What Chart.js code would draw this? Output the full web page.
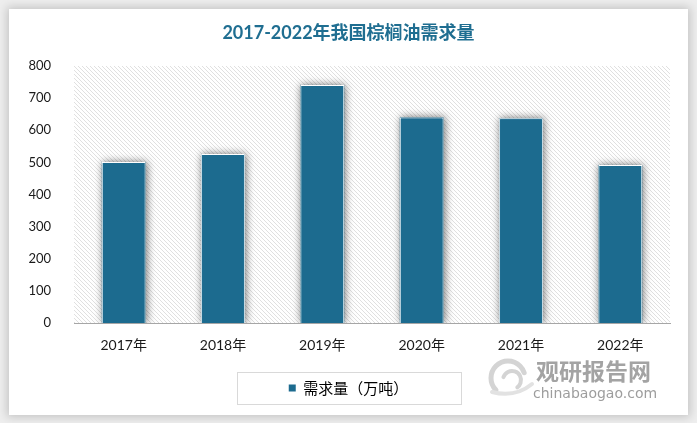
<!DOCTYPE html>
<html>
<head>
<meta charset="utf-8">
<script src="https://cdn.jsdelivr.net/npm/chart.js@4/dist/chart.umd.min.js"></script>
<style>
  html, body { margin: 0; padding: 0; }
  body { width: 697px; height: 423px; background: #eeeeee; position: relative; overflow: hidden; }
  #card { position: absolute; left: 9px; top: 9px; width: 679px; height: 406px; background: #ffffff;
          box-shadow: 0 0 9px 2px rgba(0,0,0,0.18); }
  #wrap { position: absolute; left: 0; top: 0; width: 697px; height: 423px; }
</style>
</head>
<body>
<div id="card"></div>
<div id="wrap"><canvas id="c" width="697" height="423"></canvas></div>
<script>
const title = '2017-2022年我国棕榈油需求量';
const categories = ['2017年', '2018年', '2019年', '2020年', '2021年', '2022年'];
const seriesName = '需求量（万吨）';
const demand = [501, 526, 741, 640, 637, 492];
const yTicks = [0, 100, 200, 300, 400, 500, 600, 700, 800];

const barColor = '#1c6b8f';
const latinCjk = "Lato, 'Noto Sans CJK SC', sans-serif";

function hatchPattern(ctx) {
  const t = document.createElement('canvas');
  t.width = 4; t.height = 4;
  const g = t.getContext('2d');
  g.fillStyle = '#ffffff';
  g.fillRect(0, 0, 4, 4);
  g.strokeStyle = '#e0e0e0';
  g.lineWidth = 1;
  g.beginPath();
  g.moveTo(-1, -1); g.lineTo(5, 5);
  g.moveTo(-1, 3); g.lineTo(1, 5);
  g.moveTo(3, -1); g.lineTo(5, 1);
  g.stroke();
  return ctx.createPattern(t, 'repeat');
}

const decor = {
  id: 'decor',
  beforeDatasetsDraw(chart) {
    const {ctx, chartArea: a} = chart;
    ctx.save();
    ctx.fillStyle = hatchPattern(ctx);
    ctx.fillRect(a.left, a.top, a.right - a.left, a.bottom - a.top);
    ctx.restore();
    // soft shadow behind each bar, using the bar elements' own geometry
    ctx.save();
    ctx.beginPath();
    ctx.rect(a.left, a.top - 20, a.right - a.left, a.bottom - a.top + 20);
    ctx.clip();
    ctx.shadowColor = 'rgba(0,0,0,0.55)';
    ctx.shadowBlur = 8;
    ctx.shadowOffsetX = 1;
    ctx.shadowOffsetY = 0;
    ctx.fillStyle = barColor;
    chart.getDatasetMeta(0).data.forEach(el => {
      const p = el.getProps(['x', 'y', 'base', 'width'], true);
      ctx.fillRect(p.x - p.width / 2, p.y, p.width, p.base - p.y);
    });
    ctx.restore();
  },
  afterDraw(chart) {
    const ctx = chart.ctx;
    const hb = chart.legend && chart.legend.legendHitBoxes && chart.legend.legendHitBoxes[0];
    if (hb) {
      const cx = hb.left + hb.width / 2;
      const cy = hb.top + hb.height / 2;
      ctx.save();
      ctx.strokeStyle = '#d9d9d9';
      ctx.lineWidth = 1;
      ctx.strokeRect(Math.round(cx - 112) + 0.5, Math.round(cy - 16) + 0.5, 224, 32);
      ctx.restore();
    }
    // watermark
    ctx.save();
    ctx.strokeStyle = '#d4d4d4';
    ctx.lineCap = 'round';
    ctx.lineWidth = 5;
    ctx.beginPath();
    ctx.arc(508, 378, 17, Math.PI * 0.75, Math.PI * 1.9);
    ctx.stroke();
    ctx.lineWidth = 4;
    ctx.beginPath();
    ctx.arc(512, 380, 9, Math.PI * 1.1, Math.PI * 2.3);
    ctx.stroke();
    ctx.strokeStyle = '#e2e2e2';
    ctx.lineWidth = 4;
    ctx.beginPath();
    ctx.moveTo(492, 392); ctx.quadraticCurveTo(515, 398, 532, 384);
    ctx.stroke();
    ctx.fillStyle = '#a3a3a3';
    ctx.font = "bold 23px 'Noto Sans CJK SC'";
    ctx.textBaseline = 'middle';
    ctx.textAlign = 'left';
    ctx.fillText('观研报告网', 536, 371);
    ctx.fillStyle = '#9d9d9d';
    ctx.font = "14px 'DejaVu Sans'";
    ctx.fillText('chinabaogao.com', 533, 394);
    ctx.restore();
  }
};

new Chart(document.getElementById('c'), {
  type: 'bar',
  data: {
    labels: categories,
    datasets: [{
      label: seriesName,
      data: demand,
      backgroundColor: barColor,
      borderColor: '#ffffff',
      borderWidth: 1,
      barPercentage: 0.44,
      categoryPercentage: 1.0
    }]
  },
  options: {
    responsive: false,
    animation: false,
    devicePixelRatio: 1,
    layout: { padding: { left: 27, right: 27, top: 0, bottom: 17.5 } },
    plugins: {
      title: {
        display: true,
        text: title,
        color: '#1f6e91',
        font: { size: 18, weight: 'bold', family: latinCjk },
        padding: { top: 22, bottom: 22.4 }
      },
      legend: {
        display: true,
        position: 'bottom',
        labels: {
          color: '#000000',
          font: { size: 15, family: "'Noto Sans CJK SC', sans-serif" },
          boxWidth: 7,
          boxHeight: 7,
          padding: 10,
          generateLabels(chart) {
            return Chart.defaults.plugins.legend.labels.generateLabels(chart).map(l => Object.assign(l, { lineWidth: 0, strokeStyle: 'rgba(0,0,0,0)' }));
          }
        }
      },
      tooltip: { enabled: false }
    },
    scales: {
      x: {
        grid: { display: false },
        border: { display: true, color: '#a6a6a6', width: 1 },
        ticks: { color: '#1a1a1a', font: { size: 14, family: latinCjk }, padding: 6 },
        afterFit(s) { s.height = 47.5; }
      },
      y: {
        min: 0,
        max: 800,
        afterBuildTicks(s) { s.ticks = yTicks.map(v => ({ value: v })); },
        grid: { display: false },
        border: { display: false },
        ticks: { color: '#1a1a1a', font: { size: 13, family: latinCjk }, padding: 15 },
        afterFit(s) { s.width = 47; }
      }
    }
  },
  plugins: [decor]
});
</script>
</body>
</html>
